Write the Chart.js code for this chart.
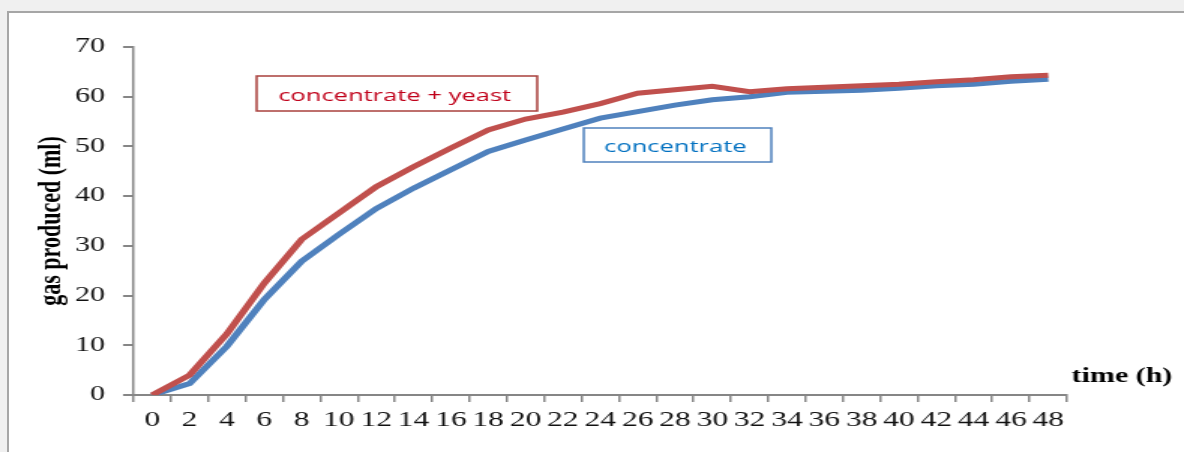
<!DOCTYPE html>
<html>
<head>
<meta charset="utf-8">
<script src="https://cdn.jsdelivr.net/npm/chart.js@4"></script>
<style>
  body { margin: 0; background: #f0f0f0; overflow: hidden; }
  #panel { position: absolute; left: 7px; top: 11px; width: 1200px; height: 460px; background: #fff; border: 2px solid #a6a6a6; }
  #gasChart { position: absolute; left: 0; top: 0; width: 1184px; height: 452px; }
</style>
</head>
<body>
<div id="panel"></div>
<!-- the original picture is stretched sideways, so draw narrow and stretch with css -->
<canvas id="gasChart" width="789" height="452" style="width:1184px;height:452px"></canvas>
<script>
const hours = ['0', '2', '4', '6', '8', '10', '12', '14', '16', '18', '20', '22', '24',
  '26', '28', '30', '32', '34', '36', '38', '40', '42', '44', '46', '48'];
const concentrateYeast = [0, 4, 12.3, 22.5, 31.3, 36.6, 41.9, 45.9, 49.7, 53.3, 55.5, 56.9, 58.6,
  60.7, 61.4, 62.1, 61.0, 61.6, 61.9, 62.2, 62.5, 63.0, 63.4, 64.0, 64.3];
const concentrate = [0, 2.3, 9.8, 19.2, 26.9, 32.3, 37.5, 41.6, 45.3, 49.0, 51.3, 53.5, 55.7,
  57.0, 58.3, 59.4, 60.0, 60.9, 61.1, 61.3, 61.7, 62.2, 62.5, 63.1, 63.5];
const yTicks = [0, 10, 20, 30, 40, 50, 60, 70];

const axisGrey = '#868686';

// text boxes used as legend + the "time (h)" label
const boxLabels = {
  id: 'boxLabels',
  afterDraw(chart) {
    const ctx = chart.ctx;
    const a = chart.chartArea;
    ctx.save();
    ctx.font = '17px "Open Sans"';
    ctx.textAlign = 'center';
    ctx.textBaseline = 'middle';
    ctx.lineWidth = 1.5;

    ctx.strokeStyle = '#a9403d';
    ctx.strokeRect(a.left + 82, 76, 187, 35);
    ctx.fillStyle = '#c0001a';
    ctx.fillText('concentrate + yeast', a.left + 174, 96);

    ctx.strokeStyle = '#4f81bd';
    ctx.strokeRect(a.left + 300, 128, 125, 34);
    ctx.fillStyle = '#0070c0';
    ctx.fillText('concentrate', a.left + 361, 147);

    ctx.font = 'bold 20px "Liberation Serif"';
    ctx.textAlign = 'left';
    ctx.fillStyle = '#000';
    ctx.fillText('time (h)', a.right + 3, 377);
    ctx.restore();
  }
};

const ctx = document.getElementById('gasChart');
const gasChart = new Chart(ctx, {
  type: 'line',
  data: {
    labels: hours,
    datasets: [{
      label: 'concentrate + yeast',
      data: concentrateYeast,
      borderColor: '#c0504d',
      borderWidth: 5,
      pointRadius: 0,
      tension: 0
    }, {
      label: 'concentrate',
      data: concentrate,
      borderColor: '#4f81bd',
      borderWidth: 5,
      pointRadius: 0,
      tension: 0
    }]
  },
  options: {
    responsive: false,
    animation: false,
    layout: {
      padding: { top: 47, right: 78, bottom: 0, left: 0 }
    },
    scales: {
      x: {
        offset: true,
        grid: { offset: true, drawOnChartArea: false, tickLength: 7, color: axisGrey, lineWidth: 1.5 },
        border: { color: axisGrey, width: 2 },
        ticks: {
          color: '#111',
          padding: 6,
          maxRotation: 0,
          autoSkip: false,
          font: { family: 'Liberation Serif', size: 21 }
        },
        afterFit: scale => { scale.height = 57; }
      },
      y: {
        min: 0,
        max: 70,
        afterBuildTicks: scale => { scale.ticks = yTicks.map(v => ({ value: v })); },
        grid: { drawOnChartArea: false, tickLength: 7, color: axisGrey, lineWidth: 2 },
        border: { color: axisGrey, width: 1.5 },
        ticks: {
          color: '#111',
          padding: 12,
          font: { family: 'Liberation Serif', size: 20 }
        },
        title: {
          display: true,
          text: 'gas produced (ml)',
          color: '#000',
          padding: { top: 21, bottom: 0 },
          font: { family: 'Liberation Serif', size: 22, weight: 'bold' }
        },
        afterFit: scale => { scale.width = 89; }
      }
    },
    plugins: {
      legend: { display: false },
      tooltip: { enabled: false }
    }
  },
  plugins: [boxLabels]
});
</script>
</body>
</html>
